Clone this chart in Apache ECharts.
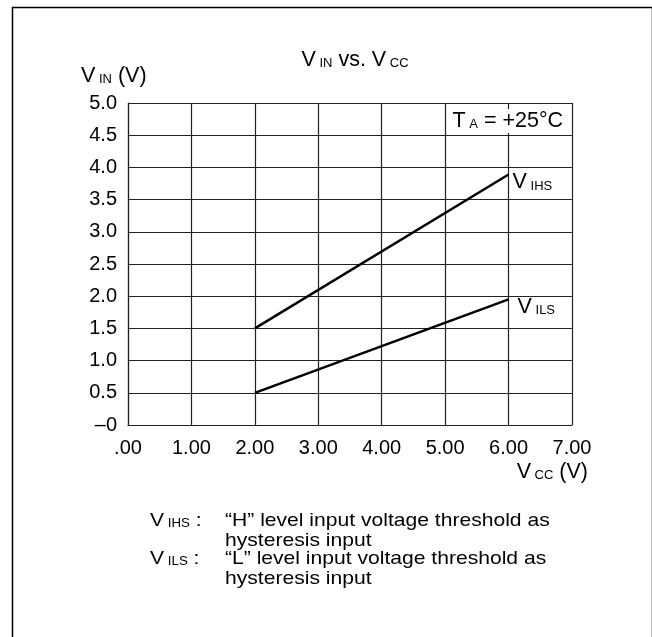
<!DOCTYPE html>
<html><head><meta charset="utf-8">
<script src="https://cdn.jsdelivr.net/npm/echarts@6/dist/echarts.min.js"></script>
<style>html,body{margin:0;padding:0;background:#fff}#c{width:652px;height:637px}</style>
</head><body><div id="c"></div>
<script>
const xTickValues = [0, 1, 2, 3, 4, 5, 6, 7];
const xTickLabels = ['.00', '1.00', '2.00', '3.00', '4.00', '5.00', '6.00', '7.00'];
const yTickValues = [0, 0.5, 1, 1.5, 2, 2.5, 3, 3.5, 4, 4.5, 5];
const yTickLabels = ['\u20130', '0.5', '1.0', '1.5', '2.0', '2.5', '3.0', '3.5', '4.0', '4.5', '5.0'];
const vccValues = [2, 6];
const vihsValues = [1.5, 3.89];
const vilsValues = [0.5, 1.95];

const FONT = 'Liberation Sans, Arial, sans-serif';
const BIG = 21.5, NOTE = 19, SMALL = 13, NSMALL = 12, TICK = 20, SX = 1.11;
const rich = {
  b: {fontFamily: FONT, fontSize: BIG, color: '#000', verticalAlign: 'bottom'},
  s: {fontFamily: FONT, fontSize: SMALL, color: '#000', verticalAlign: 'bottom', padding: [0, 0, 1, 0]}
};
const richN = {
  b: {fontFamily: FONT, fontSize: NOTE, color: '#000', verticalAlign: 'bottom'},
  s: {fontFamily: FONT, fontSize: NSMALL, color: '#000', verticalAlign: 'bottom', padding: [0, 0, 1, 0]}
};
function lab(v, map) {
  for (let i = 0; i < map[0].length; i++) if (Math.abs(map[0][i] - v) < 1e-6) return map[1][i];
  return '';
}
const chart = echarts.init(document.getElementById('c'), null, {renderer: 'canvas'});
const lineStyle = {color: '#000', width: 2.5};
const note = (x, y, t) => ({type: 'text', x: x, y: y, scaleX: SX,
  style: {text: t, font: NOTE + 'px ' + FONT, fill: '#000', align: 'left', verticalAlign: 'middle'}});
const noteR = (x, y, t) => ({type: 'text', x: x, y: y, scaleX: SX,
  style: {text: t, rich: richN, align: 'left', verticalAlign: 'middle'}});
chart.setOption({
  animation: false,
  backgroundColor: '#fff',
  grid: {left: 128, right: 80, top: 103, bottom: 212, containLabel: false},
  xAxis: {
    type: 'value', min: 0, max: 7, interval: 1,
    axisLine: {show: true, lineStyle: {color: '#222', width: 1.2}},
    axisTick: {show: false},
    splitLine: {show: true, lineStyle: {color: '#222', width: 1.2}},
    axisLabel: {fontFamily: FONT, fontSize: TICK, color: '#000', margin: 13,
      formatter: v => lab(v, [xTickValues, xTickLabels])}
  },
  yAxis: {
    type: 'value', min: 0, max: 5, interval: 0.5,
    axisLine: {show: true, lineStyle: {color: '#222', width: 1.2}},
    axisTick: {show: false},
    splitLine: {show: true, lineStyle: {color: '#222', width: 1.2}},
    axisLabel: {fontFamily: FONT, fontSize: TICK, color: '#000', margin: 11,
      formatter: v => lab(v, [yTickValues, yTickLabels])}
  },
  series: [
    {type: 'line', name: 'VIHS', data: vccValues.map((x, i) => [x, vihsValues[i]]),
     symbol: 'none', lineStyle: lineStyle, z: 5,
     endLabel: {show: true, formatter: '{b|V}{s| IHS}', rich: rich, offset: [-4, 8]}},
    {type: 'line', name: 'VILS', data: vccValues.map((x, i) => [x, vilsValues[i]]),
     symbol: 'none', lineStyle: lineStyle, z: 5,
     endLabel: {show: true, formatter: '{b|V}{s| ILS}', rich: rich, offset: [1, 8]}}
  ],
  graphic: [
    {type: 'rect', left: 10, top: 5, shape: {width: 640, height: 650},
     style: {fill: 'none', stroke: '#000', lineWidth: 1.5}, silent: true},
    {type: 'text', x: 355, y: 60, style: {text: '{b|V}{s| IN}{b| vs. V}{s| CC}', rich: rich, align: 'center', verticalAlign: 'middle'}},
    {type: 'text', x: 81, y: 76, style: {text: '{b|V}{s| IN}{b| (V)}', rich: rich, align: 'left', verticalAlign: 'middle'}},
    {type: 'text', x: 588, y: 472, style: {text: '{b|V}{s| CC}{b| (V)}', rich: rich, align: 'right', verticalAlign: 'middle'}},
    {type: 'text', x: 564, y: 121, z: 10, style: {text: '{b|T}{s| A}{b| = +25\u00b0C}', rich: rich, align: 'right', verticalAlign: 'middle', backgroundColor: '#fff', padding: [1, 1, 1, 4]}},
    noteR(150, 521, '{b|V}{s| IHS}{b| :}'),
    note(225, 521, '\u201cH\u201d level input voltage threshold as'),
    note(225, 540.5, 'hysteresis input'),
    noteR(150, 559, '{b|V}{s| ILS}{b| :}'),
    note(225, 559, '\u201cL\u201d level input voltage threshold as'),
    note(225, 578.5, 'hysteresis input')
  ]
});
</script></body></html>
